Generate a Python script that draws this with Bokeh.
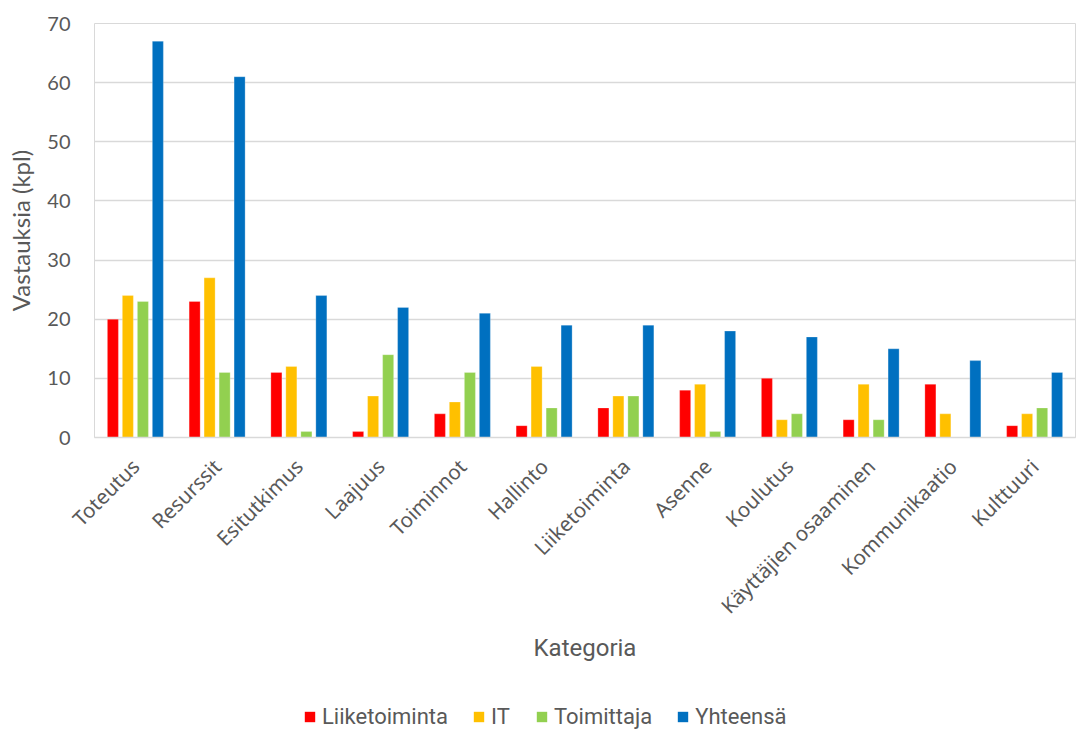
from bokeh.plotting import figure
from bokeh.models import ColumnDataSource, Legend, LegendItem, FactorRange, Range1d
from bokeh.layouts import column
from bokeh.transform import dodge
from bokeh.embed import file_html
from bokeh.resources import INLINE
import math

categories = ["Toteutus", "Resurssit", "Esitutkimus", "Laajuus", "Toiminnot", "Hallinto",
              "Liiketoiminta", "Asenne", "Koulutus", "Käyttäjien osaaminen", "Kommunikaatio", "Kulttuuri"]
liiketoiminta = [20, 23, 11, 1, 4, 2, 5, 8, 10, 3, 9, 2]
it = [24, 27, 12, 7, 6, 12, 7, 9, 3, 9, 4, 4]
toimittaja = [23, 11, 1, 14, 11, 5, 7, 1, 4, 3, 0, 5]
yhteensa = [67, 61, 24, 22, 21, 19, 19, 18, 17, 15, 13, 11]
series_names = ["Liiketoiminta", "IT", "Toimittaja", "Yhteensä"]
colors = ["#FF0000", "#FFC000", "#92D050", "#0070C0"]
y_ticks = [0, 10, 20, 30, 40, 50, 60, 70]

src = ColumnDataSource(dict(cat=categories, a=liiketoiminta, b=it, c=toimittaja, d=yhteensa))

p = figure(width=1076, height=700, x_range=FactorRange(*categories), y_range=(0, 70),
           output_backend="svg", toolbar_location=None,
           min_border_left=94, min_border_right=1, min_border_top=23, min_border_bottom=263)

offsets = [-0.275, -0.092, 0.092, 0.275]
for key, off, col in zip(["a", "b", "c", "d"], offsets, colors):
    p.vbar(x=dodge("cat", off, range=p.x_range), top=key, width=0.135, source=src,
           fill_color=col, line_color="white", line_alpha=0.5, line_width=0.5)

p.outline_line_color = "#D9D9D9"
p.xgrid.grid_line_color = None
p.ygrid.grid_line_color = "#D9D9D9"
p.ygrid.grid_line_width = 1.5
p.yaxis.ticker = y_ticks
p.yaxis.axis_line_color = None
p.yaxis.major_tick_line_color = None
p.yaxis.minor_tick_line_color = None
p.yaxis.major_label_text_font = "Lato"
p.yaxis.major_label_text_font_size = "20px"
p.yaxis.major_label_text_color = "#595959"
p.yaxis.major_label_standoff = 18
p.yaxis.axis_label = "Vastauksia (kpl)"
p.yaxis.axis_label_text_font = "Lato"
p.yaxis.axis_label_text_font_style = "normal"
p.yaxis.axis_label_text_font_size = "24px"
p.yaxis.axis_label_text_color = "#595959"
p.yaxis.axis_label_standoff = 9

p.xaxis.axis_line_color = "#D9D9D9"
p.xaxis.axis_line_width = 1.5
p.xaxis.major_tick_line_color = None
p.xaxis.minor_tick_line_color = None
p.xaxis.major_label_orientation = math.pi / 4
p.xaxis.major_label_text_font = "Noto Sans"
p.xaxis.major_label_text_font_size = "20.5px"
p.xaxis.major_label_text_color = "#595959"
p.xaxis.major_label_standoff = 19
p.xaxis.axis_label = "Kategoria"
p.xaxis.axis_label_text_font = "Roboto"
p.xaxis.axis_label_text_font_style = "normal"
p.xaxis.axis_label_text_font_size = "24px"
p.xaxis.axis_label_text_color = "#595959"
p.xaxis.axis_label_standoff = 2

# legend strip below the chart
p2 = figure(width=1076, height=29, x_range=Range1d(0, 1), y_range=Range1d(0, 1),
            output_backend="svg", toolbar_location=None,
            min_border_left=0, min_border_right=0, min_border_top=0, min_border_bottom=0)
p2.axis.visible = False
p2.grid.grid_line_color = None
p2.outline_line_color = None
items = []
for name, col in zip(series_names, colors):
    r = p2.vbar(x=[0.5], top=[0], bottom=[0], width=0, fill_color=col, line_color=None)
    items.append(LegendItem(label=name, renderers=[r]))
legend = Legend(items=items, orientation="horizontal", location=(209, 0),
                glyph_width=13, glyph_height=13, label_standoff=6, spacing=24,
                label_text_font="Roboto", label_text_font_size="22px", label_text_color="#595959",
                border_line_color=None, background_fill_alpha=0, padding=0, margin=0)
p2.add_layout(legend)

open("out.html", "w").write(file_html(column(p, p2), INLINE))
